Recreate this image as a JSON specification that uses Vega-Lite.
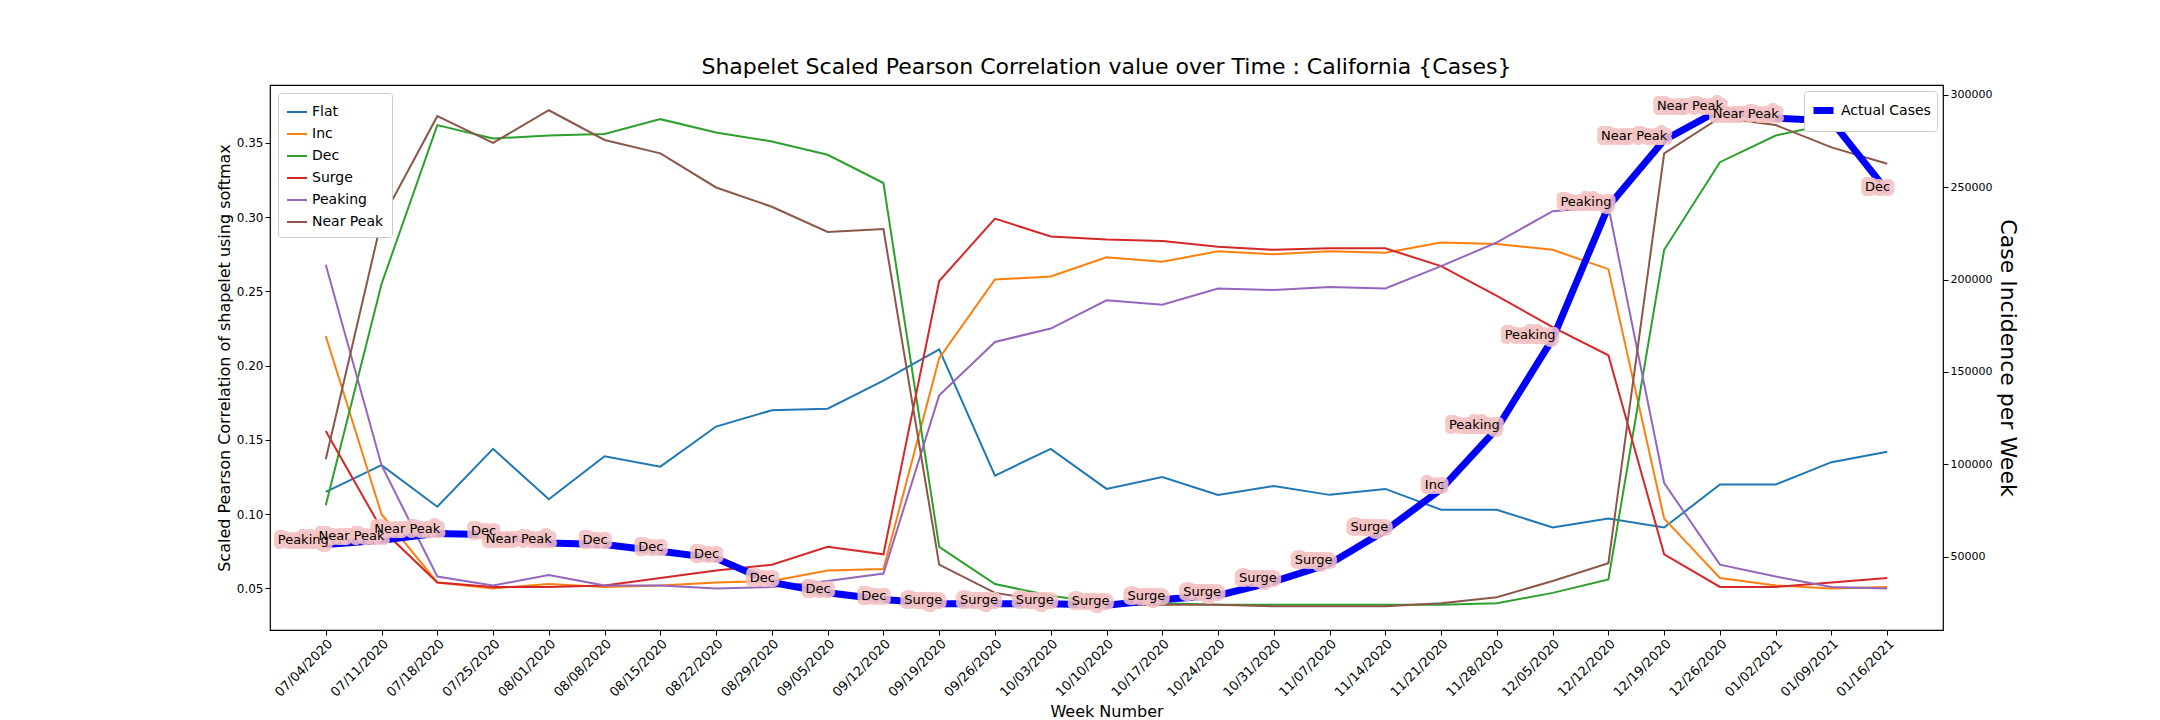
{
  "$schema": "https://vega.github.io/schema/vega-lite/v6.json",
  "autosize": "none",
  "padding": {"left": 270, "top": 85, "right": 217, "bottom": 90},
  "width": 1673,
  "height": 545,
  "background": "white",
  "title": {"text": "Shapelet Scaled Pearson Correlation value over Time : California {Cases}", "fontSize": 22, "fontWeight": "normal", "font": "DejaVu Sans", "offset": 6},
  "config": {
    "font": "DejaVu Sans",
    "view": {"stroke": "black", "strokeWidth": 1.2},
    "axis": {"grid": false, "domain": false, "tickColor": "black", "labelColor": "black", "labelFontSize": 12, "titleFontWeight": "normal", "titleColor": "black", "tickSize": 5}
  },
  "data": {"values": [
    {"week": "07/04/2020", "Flat": 0.115, "Inc": 0.220, "Dec": 0.106, "Surge": 0.156, "Peaking": 0.268, "Near Peak": 0.137, "cases": 56700, "label": "Peaking"},
    {"week": "07/11/2020", "Flat": 0.133, "Inc": 0.100, "Dec": 0.255, "Surge": 0.090, "Peaking": 0.133, "Near Peak": 0.298, "cases": 58950, "label": "Near Peak"},
    {"week": "07/18/2020", "Flat": 0.105, "Inc": 0.054, "Dec": 0.362, "Surge": 0.054, "Peaking": 0.058, "Near Peak": 0.368, "cases": 62700, "label": "Near Peak"},
    {"week": "07/25/2020", "Flat": 0.144, "Inc": 0.050, "Dec": 0.353, "Surge": 0.051, "Peaking": 0.052, "Near Peak": 0.350, "cases": 62000, "label": "Dec"},
    {"week": "08/01/2020", "Flat": 0.110, "Inc": 0.053, "Dec": 0.355, "Surge": 0.051, "Peaking": 0.059, "Near Peak": 0.372, "cases": 57500, "label": "Near Peak"},
    {"week": "08/08/2020", "Flat": 0.139, "Inc": 0.051, "Dec": 0.356, "Surge": 0.052, "Peaking": 0.052, "Near Peak": 0.352, "cases": 56700, "label": "Dec"},
    {"week": "08/15/2020", "Flat": 0.132, "Inc": 0.052, "Dec": 0.366, "Surge": 0.057, "Peaking": 0.052, "Near Peak": 0.343, "cases": 53000, "label": "Dec"},
    {"week": "08/22/2020", "Flat": 0.159, "Inc": 0.054, "Dec": 0.357, "Surge": 0.062, "Peaking": 0.050, "Near Peak": 0.320, "cases": 49200, "label": "Dec"},
    {"week": "08/29/2020", "Flat": 0.170, "Inc": 0.055, "Dec": 0.351, "Surge": 0.066, "Peaking": 0.051, "Near Peak": 0.307, "cases": 36200, "label": "Dec"},
    {"week": "09/05/2020", "Flat": 0.171, "Inc": 0.062, "Dec": 0.342, "Surge": 0.078, "Peaking": 0.055, "Near Peak": 0.290, "cases": 30600, "label": "Dec"},
    {"week": "09/12/2020", "Flat": 0.190, "Inc": 0.063, "Dec": 0.323, "Surge": 0.073, "Peaking": 0.060, "Near Peak": 0.292, "cases": 26900, "label": "Dec"},
    {"week": "09/19/2020", "Flat": 0.211, "Inc": 0.205, "Dec": 0.078, "Surge": 0.257, "Peaking": 0.180, "Near Peak": 0.066, "cases": 24600, "label": "Surge"},
    {"week": "09/26/2020", "Flat": 0.126, "Inc": 0.258, "Dec": 0.053, "Surge": 0.299, "Peaking": 0.216, "Near Peak": 0.047, "cases": 24600, "label": "Surge"},
    {"week": "10/03/2020", "Flat": 0.144, "Inc": 0.260, "Dec": 0.045, "Surge": 0.287, "Peaking": 0.225, "Near Peak": 0.041, "cases": 24600, "label": "Surge"},
    {"week": "10/10/2020", "Flat": 0.117, "Inc": 0.273, "Dec": 0.040, "Surge": 0.285, "Peaking": 0.244, "Near Peak": 0.039, "cases": 23900, "label": "Surge"},
    {"week": "10/17/2020", "Flat": 0.125, "Inc": 0.270, "Dec": 0.040, "Surge": 0.284, "Peaking": 0.241, "Near Peak": 0.039, "cases": 26900, "label": "Surge"},
    {"week": "10/24/2020", "Flat": 0.113, "Inc": 0.277, "Dec": 0.039, "Surge": 0.280, "Peaking": 0.252, "Near Peak": 0.039, "cases": 29100, "label": "Surge"},
    {"week": "10/31/2020", "Flat": 0.119, "Inc": 0.275, "Dec": 0.039, "Surge": 0.278, "Peaking": 0.251, "Near Peak": 0.038, "cases": 36600, "label": "Surge"},
    {"week": "11/07/2020", "Flat": 0.113, "Inc": 0.277, "Dec": 0.039, "Surge": 0.279, "Peaking": 0.253, "Near Peak": 0.038, "cases": 46300, "label": "Surge"},
    {"week": "11/14/2020", "Flat": 0.117, "Inc": 0.276, "Dec": 0.039, "Surge": 0.279, "Peaking": 0.252, "Near Peak": 0.038, "cases": 64200, "label": "Surge"},
    {"week": "11/21/2020", "Flat": 0.103, "Inc": 0.283, "Dec": 0.039, "Surge": 0.267, "Peaking": 0.267, "Near Peak": 0.040, "cases": 86600, "label": "Inc"},
    {"week": "11/28/2020", "Flat": 0.103, "Inc": 0.282, "Dec": 0.040, "Surge": 0.247, "Peaking": 0.283, "Near Peak": 0.044, "cases": 119400, "label": "Peaking"},
    {"week": "12/05/2020", "Flat": 0.091, "Inc": 0.278, "Dec": 0.047, "Surge": 0.226, "Peaking": 0.304, "Near Peak": 0.055, "cases": 167900, "label": "Peaking"},
    {"week": "12/12/2020", "Flat": 0.097, "Inc": 0.265, "Dec": 0.056, "Surge": 0.207, "Peaking": 0.307, "Near Peak": 0.067, "cases": 239600, "label": "Peaking"},
    {"week": "12/19/2020", "Flat": 0.091, "Inc": 0.097, "Dec": 0.278, "Surge": 0.073, "Peaking": 0.121, "Near Peak": 0.343, "cases": 275400, "label": "Near Peak"},
    {"week": "12/26/2020", "Flat": 0.120, "Inc": 0.057, "Dec": 0.337, "Surge": 0.051, "Peaking": 0.066, "Near Peak": 0.367, "cases": 291800, "label": "Near Peak"},
    {"week": "01/02/2021", "Flat": 0.120, "Inc": 0.052, "Dec": 0.355, "Surge": 0.051, "Peaking": 0.058, "Near Peak": 0.362, "cases": 287300, "label": "Near Peak"},
    {"week": "01/09/2021", "Flat": 0.135, "Inc": 0.050, "Dec": 0.363, "Surge": 0.054, "Peaking": 0.051, "Near Peak": 0.347, "cases": 285800, "label": "Dec"},
    {"week": "01/16/2021", "Flat": 0.142, "Inc": 0.051, "Dec": 0.364, "Surge": 0.057, "Peaking": 0.050, "Near Peak": 0.336, "cases": 247800, "label": "Dec"}
  ]},
  "encoding": {
    "x": {"field": "week", "type": "ordinal", "sort": null,
      "scale": {"type": "point", "padding": 1.37},
      "axis": {"title": "Week Number", "titleFontSize": 16, "labelAngle": -45, "labelAlign": "right", "labelBaseline": "top", "labelFontSize": 13, "titlePadding": 4}}
  },
  "layer": [
    {
      "transform": [{"fold": ["Flat", "Inc", "Dec", "Surge", "Peaking", "Near Peak"], "as": ["series", "val"]}],
      "mark": {"type": "line", "strokeWidth": 2},
      "encoding": {
        "y": {"field": "val", "type": "quantitative", "scale": {"domain": [0.022, 0.389], "nice": false, "zero": false},
          "axis": {"title": "Scaled Pearson Correlation of shapelet using softmax", "titleFontSize": 16, "values": [0.05, 0.1, 0.15, 0.2, 0.25, 0.3, 0.35], "format": ".2f"}},
        "color": {"field": "series", "type": "nominal",
          "scale": {"domain": ["Flat", "Inc", "Dec", "Surge", "Peaking", "Near Peak"], "range": ["#1f77b4", "#ff7f0e", "#2ca02c", "#d62728", "#9467bd", "#8c564b"]},
          "legend": {"title": null, "orient": "top-left", "symbolType": "stroke", "symbolStrokeWidth": 2, "symbolSize": 400, "labelFontSize": 14, "rowPadding": 4, "fillColor": "white", "strokeColor": "#cccccc", "padding": 8, "cornerRadius": 3, "offset": 8}}
      }
    },
    {
      "encoding": {
        "y": {"field": "cases", "type": "quantitative", "scale": {"domain": [10450, 305200], "nice": false, "zero": false},
          "axis": {"orient": "right", "title": "Case Incidence per Week", "titleFontSize": 22, "values": [50000, 100000, 150000, 200000, 250000, 300000], "format": "d", "labelFontSize": 11}}
      },
      "layer": [
        {
          "mark": {"type": "line", "strokeWidth": 7},
          "encoding": {
            "color": {"datum": "Actual Cases", "type": "nominal", "scale": {"range": ["#0000ff"]},
              "legend": {"title": null, "orient": "top-right", "symbolType": "stroke", "symbolStrokeWidth": 7, "symbolSize": 400, "labelFontSize": 14, "fillColor": "white", "strokeColor": "#cccccc", "padding": 6, "cornerRadius": 3, "offset": 6}}
          }
        },
        {
          "mark": {"type": "text", "align": "right", "baseline": "bottom", "dx": 3, "dy": 3, "fontSize": 13, "stroke": "#f4c2c2", "strokeWidth": 10, "strokeJoin": "round", "strokeOpacity": 0.9, "fill": "#f4c2c2"},
          "encoding": {"text": {"field": "label"}}
        },
        {
          "mark": {"type": "text", "align": "right", "baseline": "bottom", "dx": 3, "dy": 3, "fontSize": 13, "color": "black"},
          "encoding": {"text": {"field": "label"}}
        }
      ]
    }
  ],
  "resolve": {"scale": {"y": "independent", "color": "independent"}}
}
